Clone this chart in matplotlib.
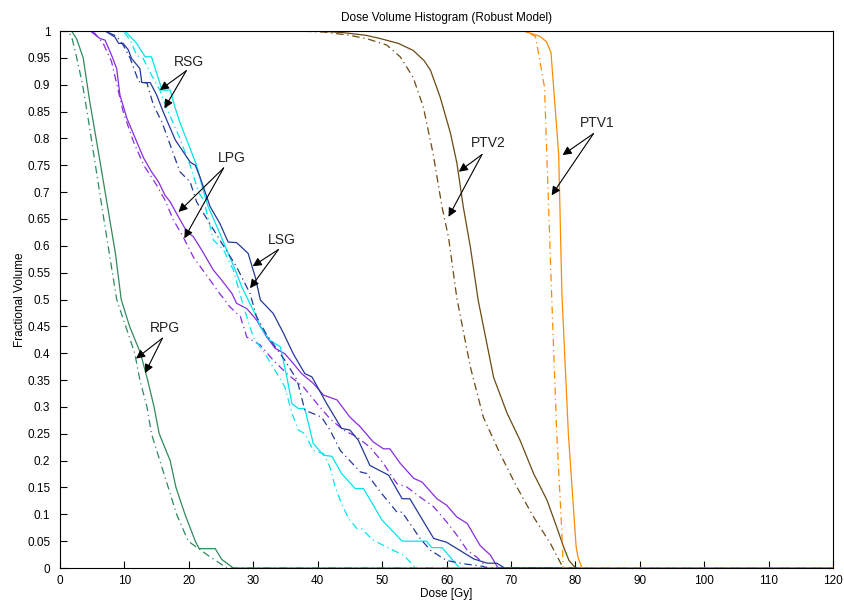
import matplotlib
matplotlib.use('Agg')
import matplotlib.pyplot as plt

# dose [Gy] / fractional volume, solid = nominal, dash-dot = robust
rpg_dose = [0, 1.8, 2.6, 3.6, 4.6, 6.0, 7.3, 8.6, 9.5, 10.8, 12.5, 13.6, 14.6, 15.4, 17.1, 18.0, 19.4, 21.0, 21.6, 24.1, 25.1, 26.9, 120]
rpg_vol = [1, 1, 0.985, 0.95, 0.87, 0.772, 0.679, 0.586, 0.5, 0.45, 0.4, 0.35, 0.3, 0.25, 0.2, 0.15, 0.1, 0.05, 0.036, 0.036, 0.016, 0, 0]
rpg_rob_dose = [0, 1.2, 1.8, 2.6, 3.5, 4.2, 5.5, 6.8, 8.0, 8.8, 10.2, 11.6, 12.4, 13.5, 14.2, 15.5, 16.8, 18.1, 19.9, 22.8, 25.9, 120]
rpg_rob_vol = [1, 1, 0.99, 0.95, 0.9, 0.85, 0.75, 0.65, 0.56, 0.5, 0.45, 0.4, 0.35, 0.3, 0.25, 0.2, 0.15, 0.1, 0.05, 0.025, 0, 0]

lsg_dose = [0, 7.0, 8.5, 9.1, 9.8, 10.6, 11.1, 12.4, 12.7, 14.0, 15.0, 16.0, 17.9, 20.2, 21.0, 21.7, 23.3, 24.8, 26.1, 27.4, 29.2, 30.3, 31.1, 33.1, 34.7, 36.2, 38.0, 39.1, 41.4, 43.7, 45.0, 46.3, 48.1, 51.0, 53.1, 54.3, 58.0, 60.0, 64.2, 66.3, 67.8, 69.0, 120]
lsg_vol = [1, 1, 0.989, 0.977, 0.977, 0.965, 0.949, 0.930, 0.904, 0.904, 0.881, 0.850, 0.797, 0.756, 0.750, 0.729, 0.673, 0.642, 0.607, 0.606, 0.586, 0.542, 0.499, 0.474, 0.437, 0.399, 0.362, 0.356, 0.306, 0.260, 0.257, 0.238, 0.191, 0.173, 0.129, 0.129, 0.055, 0.048, 0.017, 0.009, 0.009, 0, 0]
lsg_rob_dose = [0, 7.0, 8.8, 9.8, 10.9, 12.2, 13.5, 14.5, 15.8, 17.1, 18.6, 20.2, 21.2, 22.3, 24.8, 27.4, 29.5, 30.5, 32.1, 34.9, 36.8, 38.0, 40.6, 41.9, 43.5, 46.6, 47.6, 49.7, 52.3, 53.1, 55.9, 57.5, 60.0, 62.6, 65.7, 66.2, 120]
lsg_rob_vol = [1, 1, 0.99, 0.974, 0.949, 0.906, 0.903, 0.862, 0.831, 0.788, 0.738, 0.719, 0.682, 0.660, 0.611, 0.561, 0.511, 0.468, 0.434, 0.387, 0.350, 0.294, 0.281, 0.257, 0.219, 0.179, 0.176, 0.142, 0.104, 0.104, 0.055, 0.033, 0.014, 0.008, 0.003, 0, 0]

rsg_dose = [0, 10.1, 11.9, 13.2, 14.2, 15.5, 15.8, 17.1, 17.9, 18.6, 20.2, 21.2, 22.3, 23.0, 24.6, 26.1, 27.2, 28.2, 29.2, 30.5, 31.1, 32.6, 34.2, 35.2, 36.0, 37.0, 38.0, 39.3, 40.9, 42.2, 43.7, 45.8, 47.1, 50.0, 53.1, 56.9, 57.7, 59.3, 62.0, 120]
rsg_vol = [1, 1, 0.977, 0.952, 0.952, 0.903, 0.890, 0.890, 0.856, 0.830, 0.781, 0.750, 0.700, 0.673, 0.629, 0.586, 0.555, 0.524, 0.499, 0.468, 0.449, 0.424, 0.412, 0.356, 0.306, 0.297, 0.297, 0.232, 0.210, 0.208, 0.176, 0.148, 0.148, 0.089, 0.050, 0.050, 0.038, 0.038, 0, 0]
rsg_rob_dose = [0, 9.8, 10.9, 11.9, 12.9, 14.2, 15.5, 16.6, 18.6, 20.2, 21.5, 22.3, 23.8, 25.4, 26.9, 28.5, 30.0, 31.8, 33.4, 34.9, 36.0, 37.0, 38.0, 39.3, 40.9, 41.9, 42.7, 43.7, 44.8, 46.1, 46.8, 48.6, 51.2, 53.3, 54.6, 55.2, 120]
rsg_rob_vol = [1, 1, 0.983, 0.955, 0.949, 0.918, 0.890, 0.856, 0.800, 0.75, 0.700, 0.685, 0.611, 0.592, 0.555, 0.486, 0.430, 0.399, 0.368, 0.337, 0.288, 0.257, 0.250, 0.219, 0.213, 0.188, 0.151, 0.120, 0.092, 0.073, 0.073, 0.052, 0.036, 0.024, 0.008, 0, 0]

lpg_dose = [0, 4.7, 6.2, 7.0, 8.0, 8.8, 9.3, 10.4, 11.9, 13.0, 14.2, 15.3, 16.3, 17.1, 18.1, 19.7, 20.7, 22.0, 23.8, 25.1, 26.7, 27.4, 29.0, 30.5, 32.1, 33.4, 34.9, 36.2, 37.5, 39.3, 40.9, 43.0, 45.0, 46.6, 48.6, 50.2, 51.2, 52.8, 54.9, 56.2, 58.5, 60.0, 61.6, 63.2, 65.2, 66.8, 68.0, 120]
lpg_vol = [1, 1, 0.986, 0.983, 0.955, 0.930, 0.881, 0.837, 0.794, 0.763, 0.738, 0.719, 0.694, 0.682, 0.660, 0.626, 0.617, 0.592, 0.555, 0.536, 0.511, 0.493, 0.483, 0.462, 0.430, 0.409, 0.399, 0.381, 0.362, 0.344, 0.322, 0.313, 0.281, 0.263, 0.235, 0.222, 0.222, 0.195, 0.167, 0.160, 0.129, 0.117, 0.095, 0.083, 0.042, 0.024, 0, 0]
lpg_rob_dose = [0, 4.5, 5.4, 6.7, 8.0, 9.8, 11.4, 13.0, 15.0, 16.3, 17.6, 19.1, 20.7, 23.3, 24.8, 26.4, 28.0, 29.0, 31.1, 33.1, 35.2, 37.8, 39.9, 41.9, 44.0, 46.1, 48.1, 50.2, 51.2, 52.3, 53.8, 55.9, 58.0, 60.0, 61.8, 63.2, 64.7, 65.7, 66.3, 120]
lpg_rob_vol = [1, 1, 0.996, 0.977, 0.943, 0.850, 0.794, 0.750, 0.713, 0.685, 0.648, 0.617, 0.579, 0.536, 0.511, 0.486, 0.468, 0.430, 0.415, 0.387, 0.362, 0.337, 0.306, 0.278, 0.257, 0.244, 0.225, 0.195, 0.176, 0.157, 0.151, 0.132, 0.114, 0.086, 0.058, 0.033, 0.020, 0.008, 0, 0]

ptv2_dose = [0, 40, 44, 47.5, 49.7, 52.5, 54.8, 56.5, 57.5, 59.0, 60.6, 61.6, 62.6, 63.7, 64.9, 67.3, 69.4, 71.4, 73.5, 75.6, 77.1, 78.2, 79.0, 80.0, 120]
ptv2_vol = [1, 1, 0.997, 0.992, 0.986, 0.977, 0.964, 0.945, 0.927, 0.877, 0.81, 0.754, 0.672, 0.597, 0.499, 0.355, 0.288, 0.238, 0.176, 0.126, 0.076, 0.038, 0.014, 0, 0]
ptv2_rob_dose = [0, 37, 41, 45, 47.8, 50.7, 52.8, 54.8, 56.4, 57.9, 59.3, 60.3, 61.6, 63.7, 65.7, 68.3, 70.9, 73.5, 76.1, 78.1, 120]
ptv2_rob_vol = [1, 1, 0.998, 0.992, 0.985, 0.974, 0.952, 0.914, 0.858, 0.772, 0.672, 0.616, 0.502, 0.374, 0.281, 0.213, 0.151, 0.095, 0.046, 0, 0]

ptv1_dose = [0, 72.0, 74.5, 75.5, 76.2, 77.4, 77.9, 78.9, 80.1, 80.4, 81.0, 120]
ptv1_vol = [1, 1, 0.99, 0.98, 0.96, 0.77, 0.51, 0.25, 0.04, 0.02, 0, 0]
ptv1_rob_dose = [0, 72.0, 73.8, 75.2, 76.3, 77.1, 77.9, 78.1, 120]
ptv1_rob_vol = [1, 1, 0.99, 0.895, 0.51, 0.25, 0.065, 0, 0]

# label text position, arrow start, two arrow tips
labels = ['RSG', 'LPG', 'LSG', 'RPG', 'PTV2', 'PTV1']
label_xy = [(20.0, 0.942), (26.7, 0.763), (34.5, 0.610), (16.3, 0.447), (66.5, 0.791), (83.4, 0.828)]
arrow_from = [(19.6, 0.926), (25.4, 0.745), (33.9, 0.593), (15.9, 0.428), (65.5, 0.770), (82.8, 0.809)]
arrow_tips = [[(15.5, 0.890), (16.2, 0.856)],
              [(18.4, 0.663), (19.3, 0.614)],
              [(29.9, 0.562), (29.5, 0.521)],
              [(11.8, 0.390), (13.2, 0.363)],
              [(61.9, 0.738), (60.3, 0.654)],
              [(78.0, 0.769), (76.3, 0.694)]]

plt.rcParams['font.family'] = ['Liberation Sans', 'DejaVu Sans']

fig = plt.figure(figsize=(8.45, 6), dpi=100)
ax = fig.add_axes([0.071, 0.0533, 0.915, 0.895])

dashdot = (0, (6, 3, 1, 3))
curves = [
    (rpg_dose, rpg_vol, rpg_rob_dose, rpg_rob_vol, '#2f8a5c'),
    (lpg_dose, lpg_vol, lpg_rob_dose, lpg_rob_vol, '#8a2be2'),
    (rsg_dose, rsg_vol, rsg_rob_dose, rsg_rob_vol, '#00e5ee'),
    (lsg_dose, lsg_vol, lsg_rob_dose, lsg_rob_vol, '#23399b'),
    (ptv2_dose, ptv2_vol, ptv2_rob_dose, ptv2_rob_vol, '#6b4a12'),
    (ptv1_dose, ptv1_vol, ptv1_rob_dose, ptv1_rob_vol, '#ff8c00'),
]
for d, v, rd, rv, c in curves:
    ax.plot(d, v, color=c, lw=0.9)
    ax.plot(rd, rv, color=c, lw=0.9, linestyle=dashdot)

for name, txy, start, tips in zip(labels, label_xy, arrow_from, arrow_tips):
    ax.text(txy[0], txy[1], name, fontsize=10, ha='center', va='center', color='#222222')
    for tip in tips:
        ax.annotate('', xy=tip, xytext=start,
                    arrowprops=dict(arrowstyle='-|>', color='k', lw=0.8,
                                    mutation_scale=13, shrinkA=0, shrinkB=0))

ax.set_xlim(0, 120)
ax.set_ylim(0, 1)
ax.set_xticks(range(0, 121, 10))
ax.set_yticks([i * 0.05 for i in range(21)])
ax.set_yticklabels(['%g' % round(i * 0.05, 2) for i in range(21)])
ax.tick_params(axis='both', direction='in', length=5, width=0.8, labelsize=8.5)
ax.tick_params(axis='x', pad=5)
ax.tick_params(axis='y', pad=7)
for s in ax.spines.values():
    s.set_linewidth(0.8)

ax.set_title('Dose Volume Histogram (Robust Model)', fontsize=8.5, pad=7)
ax.set_xlabel('Dose [Gy]', fontsize=8.5, labelpad=0.5)
ax.set_ylabel('Fractional Volume', fontsize=8.5, labelpad=1)

fig.savefig('out.png', dpi=100)
